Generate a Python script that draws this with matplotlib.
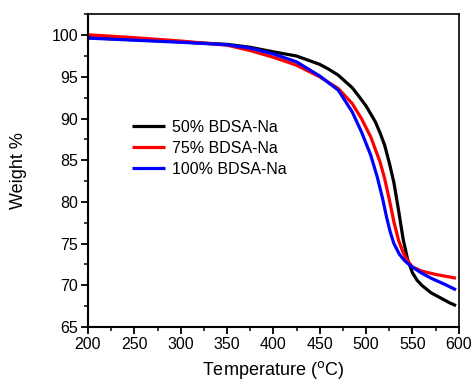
import matplotlib
matplotlib.use("Agg")
import matplotlib.pyplot as plt
from matplotlib.ticker import MultipleLocator

plt.rcParams['font.family'] = ['Liberation Sans', 'DejaVu Sans']

# 50% BDSA-Na (black)
t_50 = [200, 250, 300, 350, 375, 400, 425, 450, 460, 470, 485, 492, 500, 510, 515, 520, 525, 530, 535, 540, 545, 550, 555, 560, 570, 580, 590, 597]
w_50 = [99.7, 99.45, 99.2, 98.9, 98.55, 98.0, 97.5, 96.5, 95.9, 95.2, 93.7, 92.7, 91.5, 89.6, 88.3, 86.8, 84.7, 82.3, 79.0, 75.5, 73.0, 71.5, 70.6, 70.0, 69.1, 68.5, 67.9, 67.55]
# 75% BDSA-Na (red)
t_75 = [200, 250, 300, 350, 375, 400, 425, 450, 470, 485, 495, 505, 515, 520, 525, 530, 535, 540, 545, 550, 560, 575, 597]
w_75 = [100.05, 99.7, 99.3, 98.8, 98.15, 97.35, 96.4, 95.0, 93.6, 91.8, 90.0, 87.8, 84.8, 82.8, 80.3, 77.6, 75.4, 73.9, 72.9, 72.2, 71.7, 71.3, 70.85]
# 100% BDSA-Na (blue)
t_100 = [200, 250, 300, 350, 375, 400, 425, 450, 470, 485, 495, 505, 512, 518, 522, 526, 530, 536, 542, 549, 560, 570, 585, 597]
w_100 = [99.65, 99.4, 99.15, 98.85, 98.45, 97.75, 96.8, 95.1, 93.4, 90.8, 88.4, 85.6, 83.0, 80.3, 78.2, 76.4, 75.0, 73.7, 72.9, 72.25, 71.45, 70.85, 70.1, 69.45]

labels = ['50% BDSA-Na', '75% BDSA-Na', '100% BDSA-Na']
colors = ['black', '#ff0000', '#0000ff']

fig = plt.figure(figsize=(4.73, 3.86), dpi=100)
ax = fig.add_axes([0.186, 0.153, 0.784, 0.812])

for t, w, lab, c in zip([t_50, t_75, t_100], [w_50, w_75, w_100], labels, colors):
    ax.plot(t, w, color=c, lw=2.3, label=lab, solid_capstyle='butt', solid_joinstyle='round')

ax.set_xlim(200, 600)
ax.set_ylim(65, 102.6)
ax.xaxis.set_major_locator(MultipleLocator(50))
ax.xaxis.set_minor_locator(MultipleLocator(25))
ax.yaxis.set_major_locator(MultipleLocator(5))
ax.yaxis.set_minor_locator(MultipleLocator(2.5))
ax.tick_params(which='major', direction='out', length=5, width=1.3, labelsize=11.5, pad=2)
ax.tick_params(which='minor', direction='out', length=3, width=1.1)
for s in ax.spines.values():
    s.set_linewidth(1.5)
ax.spines['top'].set_linewidth(1.2)
ax.spines['right'].set_linewidth(1.2)

ax.set_xlabel('Temperature ($^{\\mathrm{o}}$C)', fontsize=13, labelpad=5)
ax.set_ylabel('Weight %', fontsize=13, labelpad=18)

leg = ax.legend(loc='upper left', bbox_to_anchor=(0.118, 0.66), frameon=False,
                fontsize=11.5, handlelength=2.1, handletextpad=0.45, labelspacing=0.36,
                borderpad=0, borderaxespad=0)

fig.savefig('out.png', dpi=100)
